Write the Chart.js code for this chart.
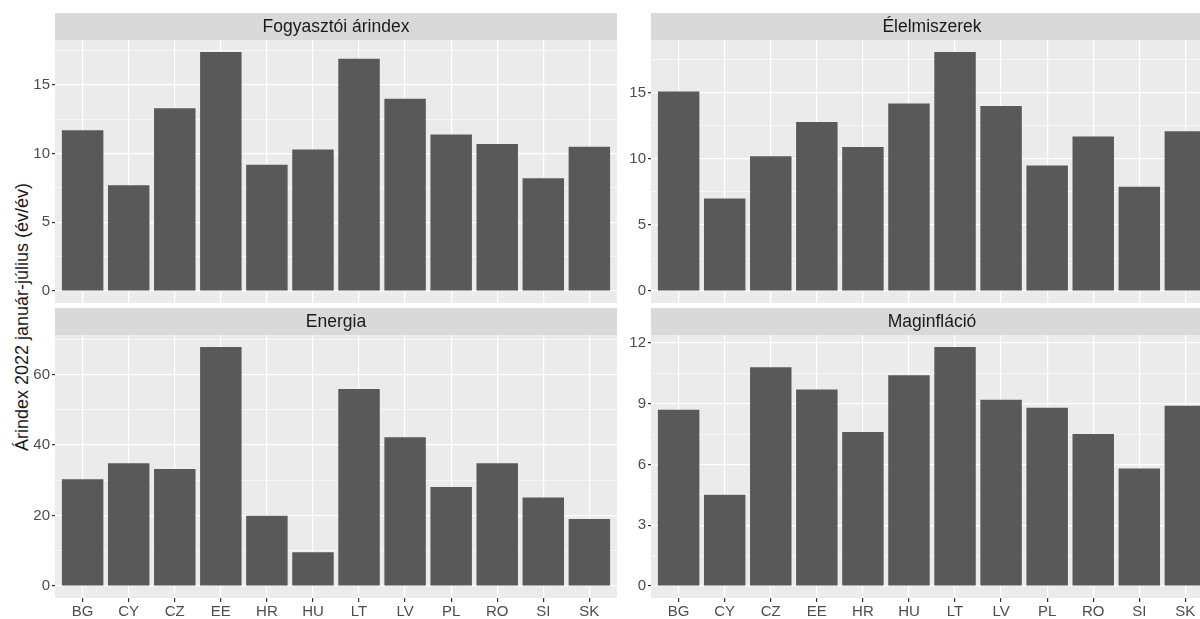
<!DOCTYPE html>
<html lang="hu">
<head>
<meta charset="utf-8">
<script src="https://cdn.jsdelivr.net/npm/chart.js@4.4.1/dist/chart.umd.min.js"></script>
<style>
  html, body { margin: 0; padding: 0; background: #fff; }
  body { width: 1200px; height: 619px; position: relative; overflow: hidden; font-family: 'Liberation Sans', Arial, sans-serif; }
  .panel { position: absolute; }
  .ytitle { position: absolute; left: 22px; top: 317px; transform: translate(-50%, -50%) rotate(-90deg); white-space: nowrap; font-size: 18px; color: #1A1A1A; }
</style>
</head>
<body>
<div class="ytitle">Árindex 2022 január-július (év/év)</div>
<canvas id="p1" class="panel" width="592" height="290" style="left:25px;top:13px"></canvas>
<canvas id="p2" class="panel" width="592" height="290" style="left:621px;top:13px"></canvas>
<canvas id="p3" class="panel" width="592" height="311" style="left:25px;top:308px"></canvas>
<canvas id="p4" class="panel" width="592" height="311" style="left:621px;top:308px"></canvas>
<script>
const countries = ['BG', 'CY', 'CZ', 'EE', 'HR', 'HU', 'LT', 'LV', 'PL', 'RO', 'SI', 'SK']

const fogyasztoi = [11.7, 7.7, 13.3, 17.4, 9.2, 10.3, 16.9, 14.0, 11.4, 10.7, 8.2, 10.5]
const elelmiszerek = [15.1, 7.0, 10.2, 12.8, 10.9, 14.2, 18.1, 14.0, 9.5, 11.7, 7.9, 12.1]
const energia = [30.3, 34.8, 33.2, 67.8, 19.9, 9.6, 55.9, 42.2, 28.1, 34.8, 25.1, 19.0]
const maginflacio = [8.7, 4.5, 10.8, 9.7, 7.6, 10.4, 11.8, 9.2, 8.8, 7.5, 5.8, 8.9]

const ticks5 = [0, 5, 10, 15]
const minor5 = [2.5, 7.5, 12.5, 17.5]
const ticks20 = [0, 20, 40, 60]
const minor20 = [10, 30, 50, 70]
const ticks3 = [0, 3, 6, 9, 12]
const minor3 = [1.5, 4.5, 7.5, 10.5]

const FONT = "'Liberation Sans', Arial, sans-serif"
const STRIP_H = 27

// szürke panel háttér + facet fejléc
const facetPlugin = {
  id: 'facet',
  beforeDraw (chart, args, opts) {
    const { ctx, chartArea: a } = chart
    ctx.save()
    ctx.fillStyle = '#EBEBEB'
    ctx.fillRect(a.left, a.top, a.width, a.height)
    ctx.fillStyle = '#D9D9D9'
    ctx.fillRect(a.left, a.top - STRIP_H, a.width, STRIP_H)
    ctx.fillStyle = '#1A1A1A'
    ctx.font = '17.5px ' + FONT
    ctx.textAlign = 'center'
    ctx.textBaseline = 'middle'
    ctx.fillText(opts.label, a.left + a.width / 2, a.top - STRIP_H / 2 + 1)
    ctx.restore()
  }
}

function noPad (axis) {
  axis.paddingTop = 0
  axis.paddingBottom = 0
  axis.paddingLeft = 0
  axis.paddingRight = 0
}

function makePanel (id, title, values, major, minor, showX) {
  const max = Math.max(...values)
  const allTicks = major.concat(minor).filter(v => v <= max * 1.05).sort((a, b) => a - b)
  const isMajor = v => major.includes(v)

  return new Chart(document.getElementById(id), {
    type: 'bar',
    data: {
      datasets: [{
        data: values.map((v, i) => ({ x: i + 1, y: v })),
        backgroundColor: '#595959',
        barPercentage: 0.9,
        categoryPercentage: 1
      }]
    },
    options: {
      responsive: false,
      animation: false,
      devicePixelRatio: 1,
      layout: { padding: { top: STRIP_H, left: 0, right: 0, bottom: 0 } },
      plugins: {
        legend: { display: false },
        tooltip: { enabled: false },
        facet: { label: title }
      },
      scales: {
        x: {
          type: 'linear',
          offset: false,
          min: 0.4,
          max: 12.6,
          afterBuildTicks: axis => { axis.ticks = countries.map((c, i) => ({ value: i + 1 })) },
          afterFit: axis => { axis.height = showX ? 21 : 0; noPad(axis) },
          border: { display: false },
          grid: { offset: false, color: '#FFFFFF', lineWidth: 1.2, drawTicks: showX, tickLength: 4, tickColor: '#333333' },
          ticks: {
            display: showX,
            autoSkip: false,
            maxRotation: 0,
            padding: 1,
            color: '#4D4D4D',
            font: { family: FONT, size: 15 },
            callback: v => countries[v - 1]
          }
        },
        y: {
          min: -max * 0.05,
          max: max * 1.05,
          afterBuildTicks: axis => { axis.ticks = allTicks.map(v => ({ value: v })) },
          afterFit: axis => { axis.width = 30; noPad(axis) },
          border: { display: false },
          grid: {
            color: '#FFFFFF',
            lineWidth: ctx => (ctx.tick && isMajor(ctx.tick.value)) ? 1.2 : 0.6,
            tickLength: 3,
            tickColor: ctx => (ctx.tick && isMajor(ctx.tick.value)) ? '#333333' : 'rgba(0,0,0,0)'
          },
          ticks: {
            autoSkip: false,
            padding: 2,
            color: '#4D4D4D',
            font: { family: FONT, size: 15 },
            callback: v => isMajor(v) ? String(v) : ''
          }
        }
      }
    },
    plugins: [facetPlugin]
  })
}

makePanel('p1', 'Fogyasztói árindex', fogyasztoi, ticks5, minor5, false)
makePanel('p2', 'Élelmiszerek', elelmiszerek, ticks5, minor5, false)
makePanel('p3', 'Energia', energia, ticks20, minor20, true)
makePanel('p4', 'Maginfláció', maginflacio, ticks3, minor3, true)
</script>
</body>
</html>
